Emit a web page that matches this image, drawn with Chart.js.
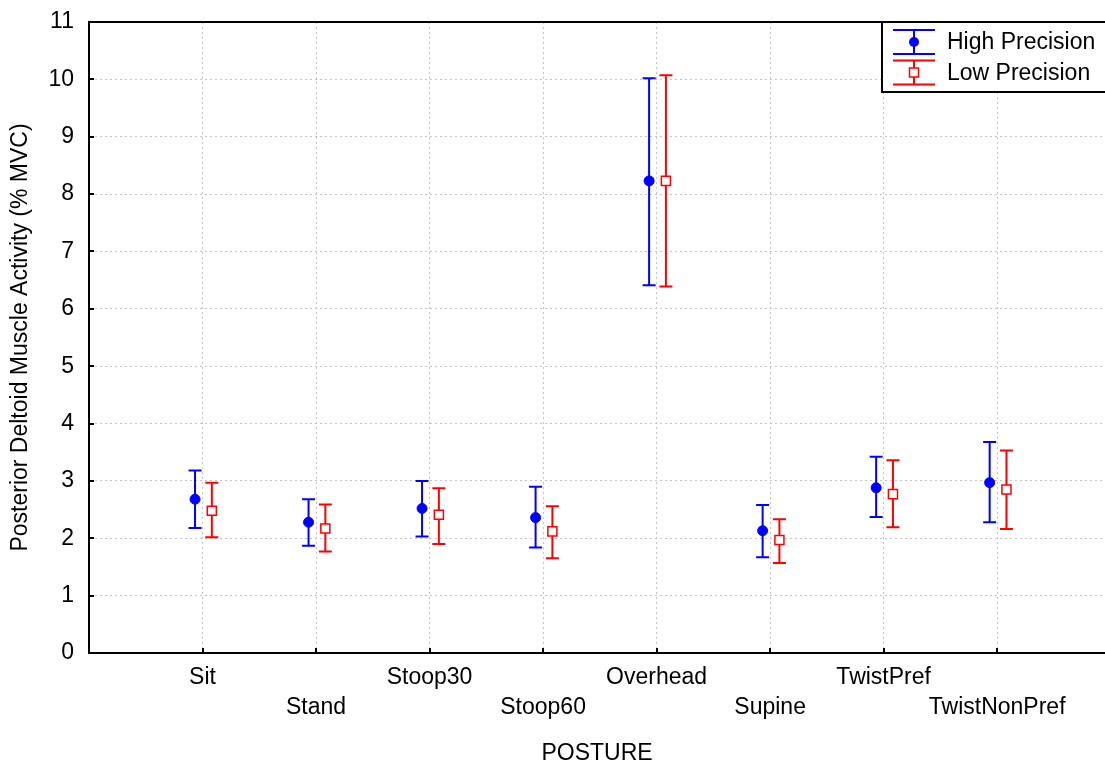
<!DOCTYPE html>
<html lang="en">
  <head>
    <meta charset="UTF-8" />
    <title>Posterior Deltoid Muscle Activity by Posture</title>
    <style>
      html, body { margin: 0; padding: 0; background: #fff; overflow: hidden; }
      canvas { display: block; }
    </style>
  </head>
  <body>
    <canvas id="chart-1" width="1105" height="765"></canvas>
    <script src="https://cdn.jsdelivr.net/npm/chart.js"></script>
    <script>
      const postures = ["Sit", "Stand", "Stoop30", "Stoop60", "Overhead", "Supine", "TwistPref", "TwistNonPref"];

      // High Precision: mean and error bar ends
      const highMean = [2.68, 2.28, 2.52, 2.36, 8.23, 2.13, 2.88, 2.97];
      const highLow = [2.18, 1.87, 2.03, 1.84, 6.41, 1.67, 2.37, 2.28];
      const highHigh = [3.18, 2.68, 3.00, 2.90, 10.02, 2.58, 3.42, 3.68];

      // Low Precision
      const lowMean = [2.48, 2.17, 2.41, 2.12, 8.23, 1.97, 2.77, 2.85];
      const lowLow = [2.02, 1.77, 1.90, 1.65, 6.39, 1.57, 2.19, 2.16];
      const lowHigh = [2.97, 2.59, 2.87, 2.56, 10.07, 2.33, 3.36, 3.53];

      const yTicks = [0, 1, 2, 3, 4, 5, 6, 7, 8, 9, 10, 11];

      const FONT = "'Liberation Sans', Arial, sans-serif";

      // draws whiskers, top frame, inward tick marks and the boxed legend
      const errorBarPlugin = {
        id: "errorBars",
        beforeDatasetsDraw(chart) {
          const ctx = chart.ctx;
          const y = chart.scales.y;
          chart.data.datasets.forEach((ds, di) => {
            const meta = chart.getDatasetMeta(di);
            ctx.save();
            ctx.strokeStyle = ds.borderColor;
            ctx.lineWidth = 2;
            meta.data.forEach((pt, i) => {
              const yl = y.getPixelForValue(ds.errLow[i]);
              const yh = y.getPixelForValue(ds.errHigh[i]);
              ctx.beginPath();
              ctx.moveTo(pt.x, yl);
              ctx.lineTo(pt.x, yh);
              ctx.moveTo(pt.x - 6.5, yl);
              ctx.lineTo(pt.x + 6.5, yl);
              ctx.moveTo(pt.x - 6.5, yh);
              ctx.lineTo(pt.x + 6.5, yh);
              ctx.stroke();
            });
            ctx.restore();
          });
        },
        afterDraw(chart) {
          const ctx = chart.ctx;
          const area = chart.chartArea;
          const x = chart.scales.x;
          const y = chart.scales.y;
          ctx.save();
          ctx.strokeStyle = "#000";
          ctx.lineWidth = 2;
          ctx.beginPath();
          ctx.moveTo(area.left - 1, area.top);
          ctx.lineTo(chart.width, area.top);
          yTicks.forEach((v) => {
            const py = Math.round(y.getPixelForValue(v));
            ctx.moveTo(area.left, py);
            ctx.lineTo(area.left + 5, py);
          });
          postures.forEach((p, i) => {
            const px = Math.round(x.getPixelForValue(i));
            ctx.moveTo(px, area.bottom);
            ctx.lineTo(px, area.bottom - 5);
          });
          ctx.stroke();

          // legend box
          const lx = 882, ly = 22, lw = 240, lh = 70;
          ctx.fillStyle = "#fff";
          ctx.fillRect(lx, ly, lw, lh);
          ctx.strokeRect(lx, ly, lw, lh);
          chart.data.datasets.forEach((ds, di) => {
            const cy = 42 + di * 30.5;
            const cx = 914;
            ctx.strokeStyle = ds.borderColor;
            ctx.lineWidth = 2;
            ctx.beginPath();
            ctx.moveTo(cx, cy - 12);
            ctx.lineTo(cx, cy + 12);
            ctx.moveTo(cx - 21, cy - 12);
            ctx.lineTo(cx + 21, cy - 12);
            ctx.moveTo(cx - 21, cy + 12);
            ctx.lineTo(cx + 21, cy + 12);
            ctx.stroke();
            if (ds.pointStyle === "circle") {
              ctx.fillStyle = ds.backgroundColor;
              ctx.beginPath();
              ctx.arc(cx, cy, 5, 0, Math.PI * 2);
              ctx.fill();
            } else {
              ctx.fillStyle = "#fff";
              ctx.lineWidth = 1.5;
              ctx.fillRect(cx - 4.5, cy - 4.5, 9, 9);
              ctx.strokeRect(cx - 4.5, cy - 4.5, 9, 9);
            }
            ctx.fillStyle = "#000";
            ctx.font = "23px " + FONT;
            ctx.textAlign = "left";
            ctx.textBaseline = "middle";
            ctx.fillText(ds.label, 947, cy + 1);
          });
          ctx.restore();
        },
      };

      const ctx_1 = document.getElementById("chart-1");

      new Chart(ctx_1, {
        type: "scatter",
        data: {
          datasets: [
            {
              label: "High Precision",
              data: highMean.map((v, i) => ({ x: i - 0.066, y: v })),
              errLow: highLow,
              errHigh: highHigh,
              pointStyle: "circle",
              pointRadius: 5,
              backgroundColor: "#0000ff",
              borderColor: "#0000ff",
              borderWidth: 1,
            },
            {
              label: "Low Precision",
              data: lowMean.map((v, i) => ({ x: i + 0.082, y: v })),
              errLow: lowLow,
              errHigh: lowHigh,
              pointStyle: "rect",
              pointRadius: 6.4,
              backgroundColor: "#ffffff",
              borderColor: "#ff0000",
              borderWidth: 1.5,
            },
          ],
        },
        options: {
          responsive: false,
          animation: false,
          events: [],
          layout: { autoPadding: false, padding: { top: 22, right: 0, left: 0, bottom: 0 } },
          plugins: {
            legend: { display: false },
            tooltip: { enabled: false },
          },
          scales: {
            x: {
              type: "linear",
              min: -1,
              max: 7.95,
              afterBuildTicks: (s) => {
                s.ticks = postures.map((p, i) => ({ value: i }));
              },
              afterFit: (s) => {
                s.height = 112;
                s.paddingLeft = 0;
                s.paddingRight = 0;
              },
              ticks: {
                autoSkip: false,
                maxRotation: 0,
                padding: 10,
                color: "#000",
                font: { family: FONT, size: 23, lineHeight: 1.3 },
                callback: (v) => (v % 2 === 0 ? postures[v] : ["", postures[v]]),
              },
              grid: { color: "#c4c4c4", lineWidth: 1, drawTicks: false },
              border: { display: true, color: "#000", width: 2, dash: [2, 3] },
              title: {
                display: true,
                text: "POSTURE",
                color: "#000",
                font: { family: FONT, size: 23, lineHeight: 1 },
                padding: { top: 0, bottom: 0 },
              },
            },
            y: {
              min: 0,
              max: 11,
              afterBuildTicks: (s) => {
                s.ticks = yTicks.map((v) => ({ value: v }));
              },
              afterFit: (s) => {
                s.width = 89;
                s.paddingTop = 0;
                s.paddingBottom = 0;
              },
              ticks: {
                padding: 15,
                color: "#000",
                font: { family: FONT, size: 23 },
              },
              grid: { color: "#c4c4c4", lineWidth: 1, drawTicks: false },
              border: { display: true, color: "#000", width: 2, dash: [2, 3] },
              title: {
                display: true,
                text: "Posterior Deltoid Muscle Activity (% MVC)",
                color: "#000",
                font: { family: FONT, size: 23, lineHeight: 1.2 },
                padding: { top: 7, bottom: 0 },
              },
            },
          },
        },
        plugins: [errorBarPlugin],
      });
    </script>
  </body>
</html>
